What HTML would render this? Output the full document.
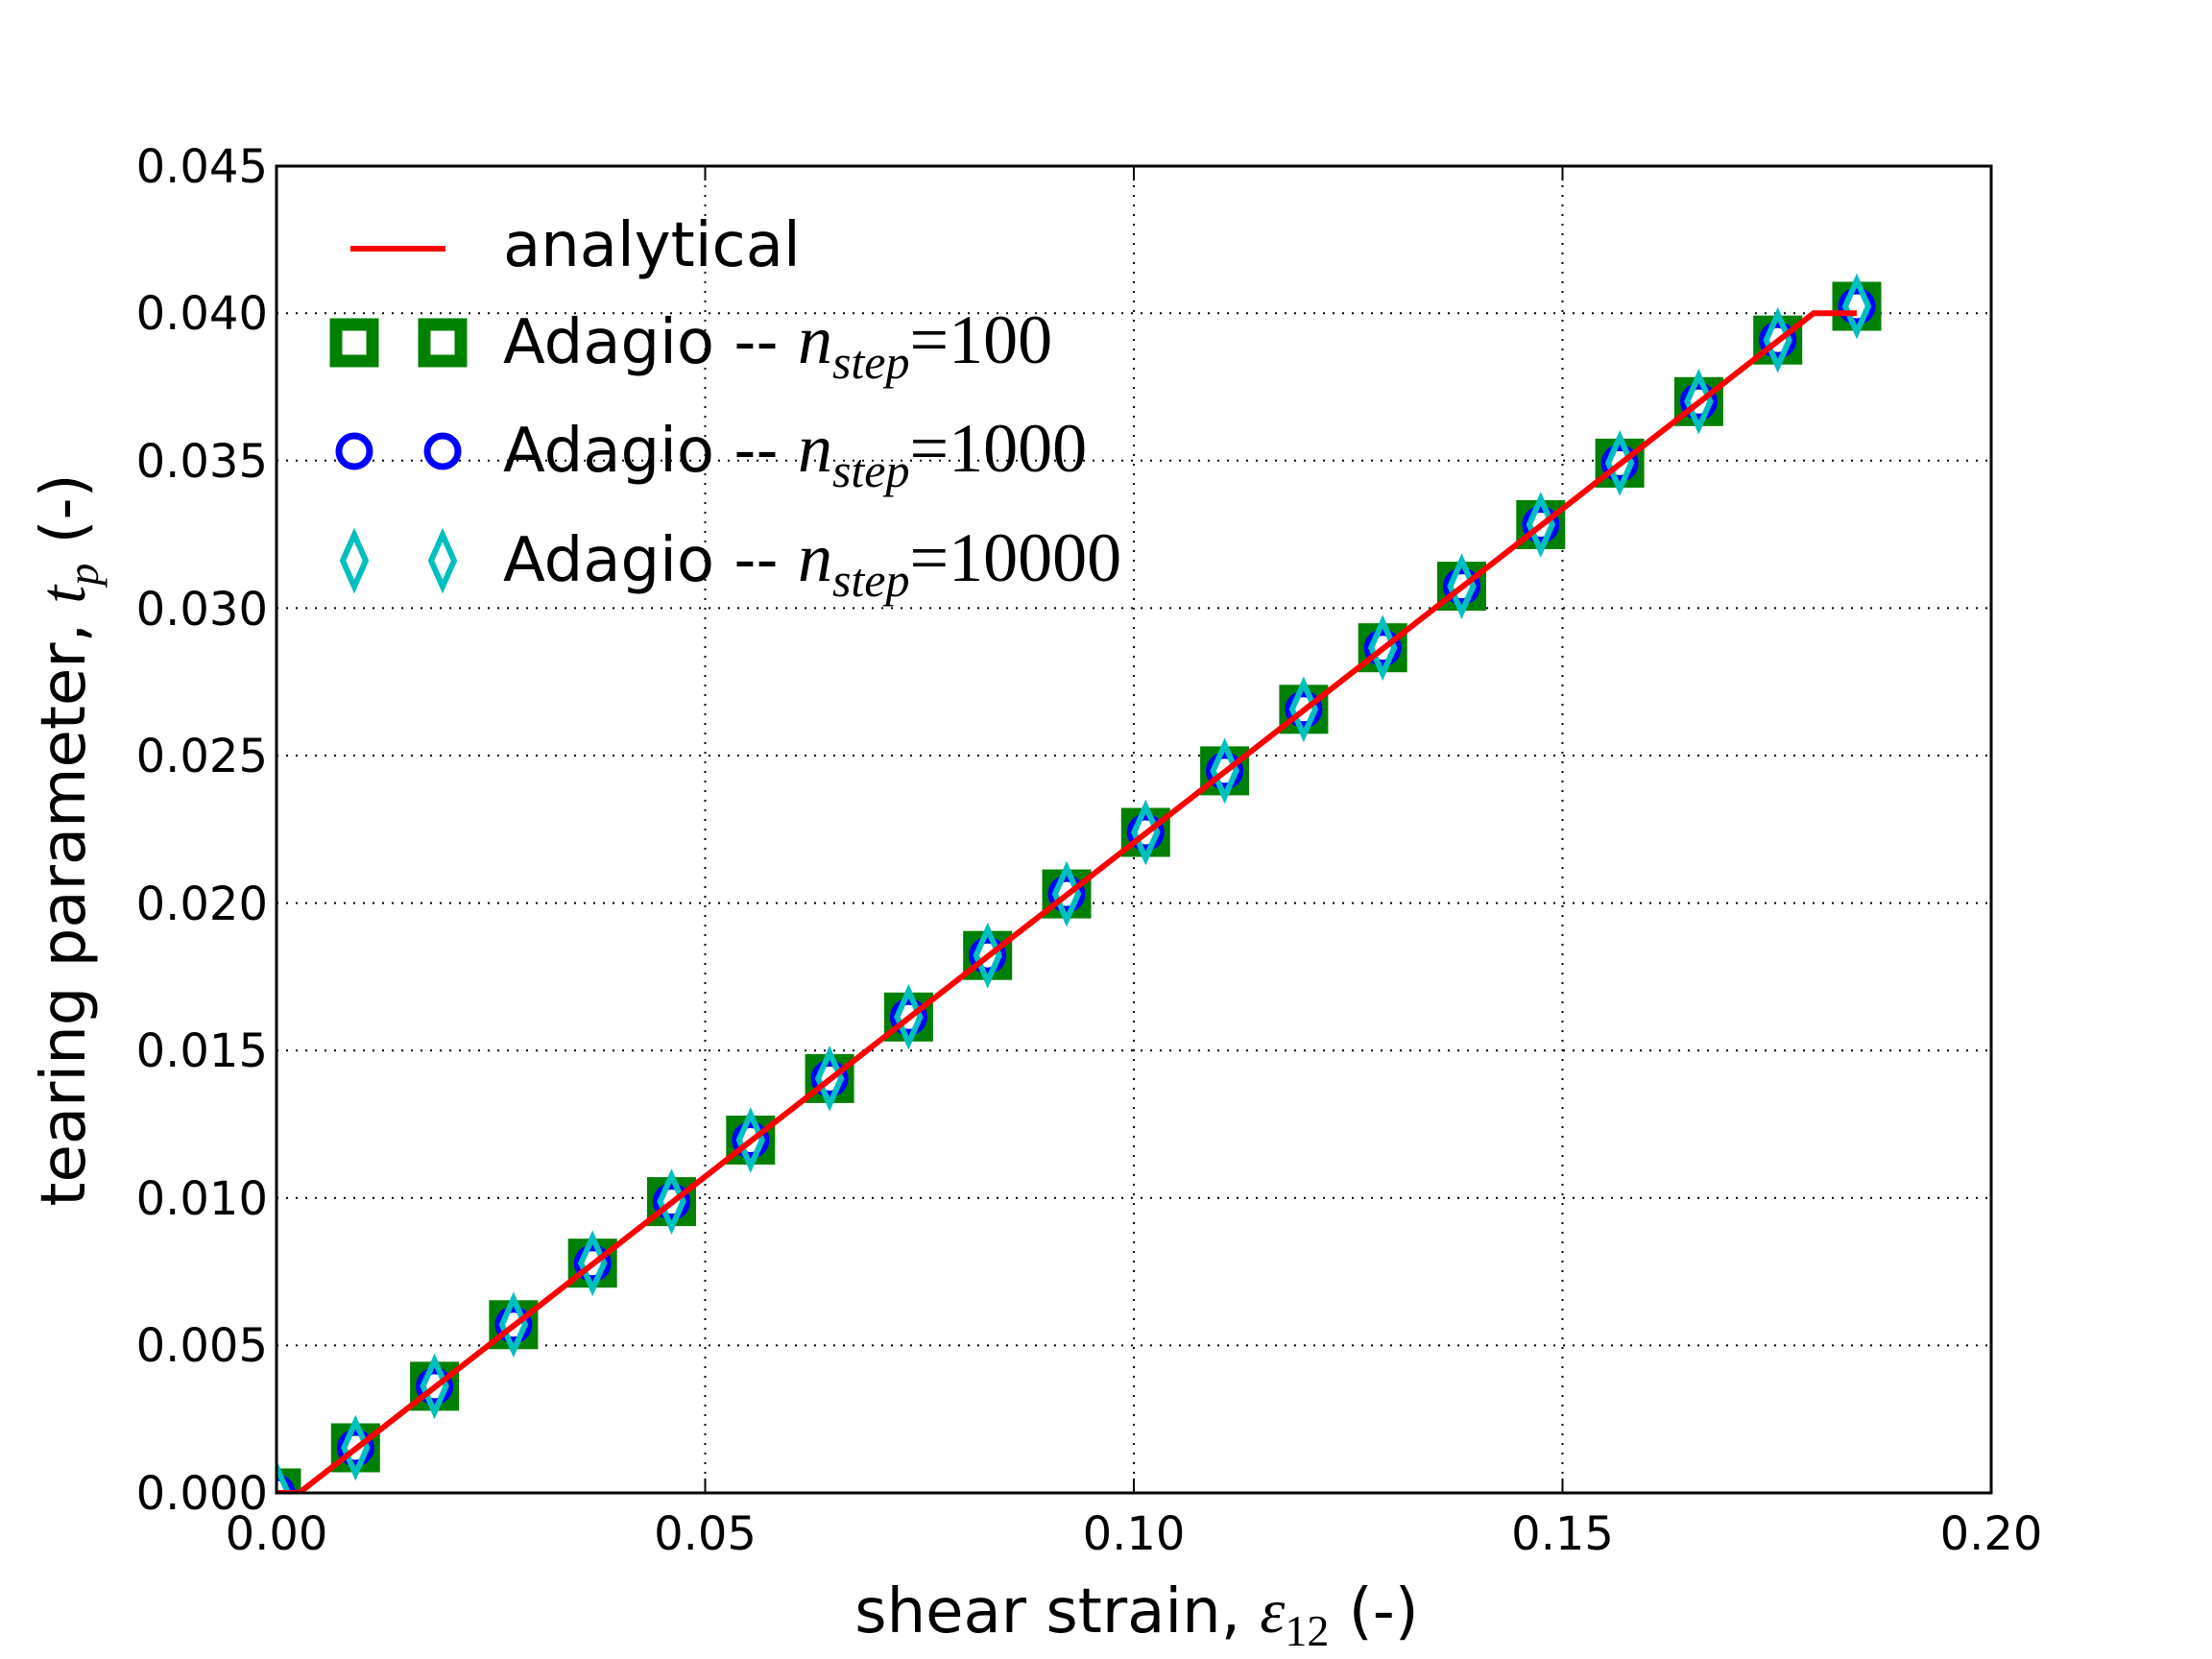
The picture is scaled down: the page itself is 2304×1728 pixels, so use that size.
<!DOCTYPE html>
<html><head><meta charset="utf-8"><style>
html,body{margin:0;padding:0;background:#fff}
svg{display:block}
text{font-family:"DejaVu Sans","Liberation Sans",sans-serif;fill:#000}
.m{font-family:"Liberation Serif",serif;font-style:italic}
.r{font-family:"Liberation Serif",serif}
</style></head><body>
<svg width="2304" height="1728" viewBox="0 0 2304 1728" xmlns="http://www.w3.org/2000/svg">
<defs>
<g id="sq"><rect x="-19" y="-19" width="38" height="38" fill="#fff" stroke="#008000" stroke-width="13"/></g>
<g id="ci"><circle r="16" fill="#fff" stroke="#0000ff" stroke-width="7"/></g>
<g id="di"><path d="M0,-27 L12,0 L0,27 L-12,0 Z" fill="none" stroke="#00bfbf" stroke-width="6"/></g>
<clipPath id="cp"><rect x="288" y="173" width="1786" height="1382"/></clipPath>
</defs>
<g stroke="#000" stroke-width="2" stroke-dasharray="2,8" fill="none">
<line x1="734.5" y1="173" x2="734.5" y2="1555"/>
<line x1="1181" y1="173" x2="1181" y2="1555"/>
<line x1="1627.5" y1="173" x2="1627.5" y2="1555"/>
<line x1="288" y1="1401.4" x2="2074" y2="1401.4"/>
<line x1="288" y1="1247.8" x2="2074" y2="1247.8"/>
<line x1="288" y1="1094.2" x2="2074" y2="1094.2"/>
<line x1="288" y1="940.6" x2="2074" y2="940.6"/>
<line x1="288" y1="787" x2="2074" y2="787"/>
<line x1="288" y1="633.4" x2="2074" y2="633.4"/>
<line x1="288" y1="479.8" x2="2074" y2="479.8"/>
<line x1="288" y1="326.2" x2="2074" y2="326.2"/>
</g>
<g clip-path="url(#cp)">
<use href="#sq" x="288" y="1555"/><use href="#sq" x="370.3" y="1508"/><use href="#sq" x="452.6" y="1443.9"/><use href="#sq" x="534.9" y="1379.8"/><use href="#sq" x="617.2" y="1315.7"/><use href="#sq" x="699.5" y="1251.6"/><use href="#sq" x="781.8" y="1187.5"/><use href="#sq" x="864.1" y="1123.4"/><use href="#sq" x="946.4" y="1059.3"/><use href="#sq" x="1028.7" y="995.2"/><use href="#sq" x="1111" y="931.1"/><use href="#sq" x="1193.3" y="867"/><use href="#sq" x="1275.6" y="802.9"/><use href="#sq" x="1357.9" y="738.8"/><use href="#sq" x="1440.2" y="674.7"/><use href="#sq" x="1522.5" y="610.6"/><use href="#sq" x="1604.8" y="546.5"/><use href="#sq" x="1687.1" y="482.4"/><use href="#sq" x="1769.4" y="418.3"/><use href="#sq" x="1851.7" y="354.2"/><use href="#sq" x="1934" y="319"/>
<use href="#ci" x="288" y="1555"/><use href="#ci" x="370.3" y="1508"/><use href="#ci" x="452.6" y="1443.9"/><use href="#ci" x="534.9" y="1379.8"/><use href="#ci" x="617.2" y="1315.7"/><use href="#ci" x="699.5" y="1251.6"/><use href="#ci" x="781.8" y="1187.5"/><use href="#ci" x="864.1" y="1123.4"/><use href="#ci" x="946.4" y="1059.3"/><use href="#ci" x="1028.7" y="995.2"/><use href="#ci" x="1111" y="931.1"/><use href="#ci" x="1193.3" y="867"/><use href="#ci" x="1275.6" y="802.9"/><use href="#ci" x="1357.9" y="738.8"/><use href="#ci" x="1440.2" y="674.7"/><use href="#ci" x="1522.5" y="610.6"/><use href="#ci" x="1604.8" y="546.5"/><use href="#ci" x="1687.1" y="482.4"/><use href="#ci" x="1769.4" y="418.3"/><use href="#ci" x="1851.7" y="354.2"/><use href="#ci" x="1934" y="319"/>
<use href="#di" x="288" y="1555"/><use href="#di" x="370.3" y="1508"/><use href="#di" x="452.6" y="1443.9"/><use href="#di" x="534.9" y="1379.8"/><use href="#di" x="617.2" y="1315.7"/><use href="#di" x="699.5" y="1251.6"/><use href="#di" x="781.8" y="1187.5"/><use href="#di" x="864.1" y="1123.4"/><use href="#di" x="946.4" y="1059.3"/><use href="#di" x="1028.7" y="995.2"/><use href="#di" x="1111" y="931.1"/><use href="#di" x="1193.3" y="867"/><use href="#di" x="1275.6" y="802.9"/><use href="#di" x="1357.9" y="738.8"/><use href="#di" x="1440.2" y="674.7"/><use href="#di" x="1522.5" y="610.6"/><use href="#di" x="1604.8" y="546.5"/><use href="#di" x="1687.1" y="482.4"/><use href="#di" x="1769.4" y="418.3"/><use href="#di" x="1851.7" y="354.2"/><use href="#di" x="1934" y="319"/>
<polyline points="288,1555 311.5,1555 1889,326.2 1934,326.2" fill="none" stroke="#ff0000" stroke-width="6"/>
</g>
<rect x="288" y="173" width="1786" height="1382" fill="none" stroke="#000" stroke-width="3"/>
<g stroke="#000" stroke-width="2">
<line x1="734.5" y1="1555" x2="734.5" y2="1540"/><line x1="1181" y1="1555" x2="1181" y2="1540"/><line x1="1627.5" y1="1555" x2="1627.5" y2="1540"/>
<line x1="734.5" y1="173" x2="734.5" y2="188"/><line x1="1181" y1="173" x2="1181" y2="188"/><line x1="1627.5" y1="173" x2="1627.5" y2="188"/>
</g>
<g font-size="48" text-anchor="end">
<text x="279" y="1572">0.000</text>
<text x="279" y="1418">0.005</text>
<text x="279" y="1265">0.010</text>
<text x="279" y="1111">0.015</text>
<text x="279" y="958">0.020</text>
<text x="279" y="804">0.025</text>
<text x="279" y="651">0.030</text>
<text x="279" y="497">0.035</text>
<text x="279" y="343">0.040</text>
<text x="279" y="190">0.045</text>
</g>
<g font-size="48" text-anchor="middle">
<text x="288" y="1614">0.00</text>
<text x="734.5" y="1614">0.05</text>
<text x="1181" y="1614">0.10</text>
<text x="1627.5" y="1614">0.15</text>
<text x="2074" y="1614">0.20</text>
</g>
<text x="1184" y="1700" font-size="64" text-anchor="middle">shear strain, <tspan class="m" font-size="66">ε</tspan><tspan class="r" font-size="46" dy="14">12</tspan><tspan dy="-14"> (-)</tspan></text>
<text transform="translate(88,875) rotate(-90)" font-size="64" text-anchor="middle">tearing parameter, <tspan class="m" font-size="68">t</tspan><tspan class="m" font-size="46" dy="14">p</tspan><tspan dy="-14">  (-)</tspan></text>
<line x1="365" y1="259" x2="464" y2="259" stroke="#ff0000" stroke-width="6"/>
<text x="524" y="277" font-size="64">analytical</text>
<use href="#sq" x="369" y="357"/><use href="#sq" x="461" y="357"/>
<text x="524" y="378" font-size="64">Adagio -- <tspan class="m" font-size="72">n</tspan><tspan class="m" font-size="50" dy="16">step</tspan><tspan class="r" font-size="72" dy="-16">=100</tspan></text>
<use href="#ci" x="369" y="470"/><use href="#ci" x="461" y="470"/>
<text x="524" y="491" font-size="64">Adagio -- <tspan class="m" font-size="72">n</tspan><tspan class="m" font-size="50" dy="16">step</tspan><tspan class="r" font-size="72" dy="-16">=1000</tspan></text>
<use href="#di" x="369" y="584"/><use href="#di" x="461" y="584"/>
<text x="524" y="605" font-size="64">Adagio -- <tspan class="m" font-size="72">n</tspan><tspan class="m" font-size="50" dy="16">step</tspan><tspan class="r" font-size="72" dy="-16">=10000</tspan></text>
</svg>
</body></html>
